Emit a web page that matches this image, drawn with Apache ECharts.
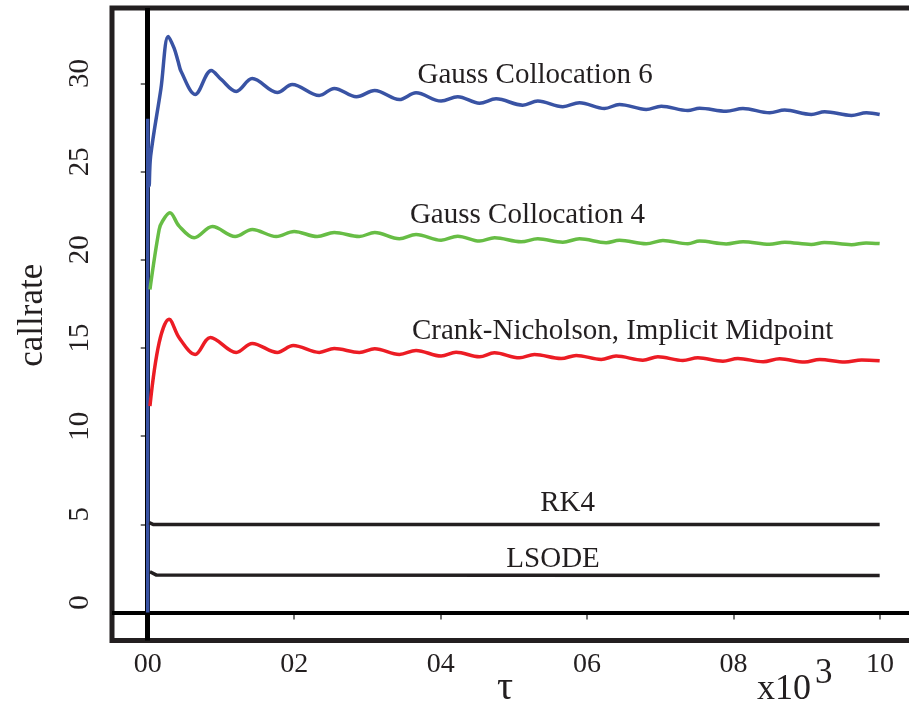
<!DOCTYPE html>
<html>
<head>
<meta charset="utf-8">
<script src="https://cdn.jsdelivr.net/npm/echarts@6/dist/echarts.min.js"></script>
<style>
html,body{margin:0;padding:0;background:#fff;}
#chart{width:909px;height:706px;}
</style>
</head>
<body>
<div id="chart"></div>
<script>
// ---- data (tau in units of 10^3, callrate) ----
const xTicks = [0, 0.2, 0.4, 0.6, 0.8, 1.0];
const xTickLabels = ['00', '02', '04', '06', '08', '10'];
const yTicks = [0, 5, 10, 15, 20, 25, 30];

const seriesNames = ['Gauss Collocation 6', 'Gauss Collocation 4', 'Crank-Nicholson, Implicit Midpoint', 'RK4', 'LSODE'];

const gc6 = [[0,0],[0,28.0],[0.002,24.2],[0.004,25.9],[0.018,29.7],[0.028,32.67],[0.036,32.0],[0.0415,31.25],[0.0456,30.68],[0.0648,29.38],[0.0867,30.74],[0.1003,30.23],[0.1208,29.55],[0.1427,30.28],[0.1769,29.49],[0.1973,29.94],[0.2342,29.32],[0.2547,29.72],[0.285,29.25],[0.310,29.6],[0.3436,29.09],[0.3664,29.47],[0.4006,29.0],[0.4233,29.25],[0.453,28.88],[0.4757,29.13],[0.5121,28.77],[0.5326,29.0],[0.5668,28.68],[0.5896,28.91],[0.6237,28.58],[0.6442,28.81],[0.6807,28.53],[0.7013,28.71],[0.7376,28.47],[0.7536,28.6],[0.790,28.43],[0.8128,28.58],[0.8493,28.34],[0.8698,28.49],[0.9062,28.24],[0.9244,28.40],[0.961,28.19],[0.9814,28.34],[0.9995,28.24]];

const gc4 = [[0.003,18.32],[0.0156,21.72],[0.0201,22.19],[0.0302,22.67],[0.0429,21.91],[0.0634,21.25],[0.0883,21.89],[0.1194,21.32],[0.1427,21.72],[0.1755,21.32],[0.1999,21.61],[0.2314,21.32],[0.2547,21.55],[0.2889,21.32],[0.310,21.55],[0.3436,21.19],[0.3664,21.44],[0.4006,21.11],[0.4233,21.34],[0.453,21.06],[0.4737,21.25],[0.5098,21.02],[0.5326,21.19],[0.5668,21.0],[0.5896,21.19],[0.626,20.97],[0.6442,21.11],[0.6807,20.91],[0.7035,21.1],[0.7376,20.91],[0.7536,21.06],[0.79,20.9],[0.813,21.03],[0.849,20.88],[0.870,21.0],[0.906,20.87],[0.924,20.98],[0.961,20.86],[0.981,20.96],[0.9995,20.92]];

const cn = [[0.003,11.7],[0.0156,15.3],[0.0292,16.63],[0.0429,15.58],[0.0648,14.63],[0.0855,15.6],[0.1208,14.75],[0.1427,15.26],[0.1769,14.75],[0.1987,15.14],[0.2342,14.75],[0.2547,14.97],[0.2889,14.75],[0.310,14.95],[0.3436,14.63],[0.3664,14.86],[0.4006,14.54],[0.4211,14.76],[0.453,14.5],[0.4734,14.73],[0.5076,14.44],[0.5281,14.63],[0.5646,14.4],[0.5851,14.58],[0.6192,14.35],[0.6396,14.54],[0.6761,14.31],[0.6966,14.5],[0.7307,14.29],[0.7513,14.44],[0.7854,14.25],[0.8059,14.4],[0.8404,14.22],[0.8629,14.39],[0.8971,14.2],[0.9176,14.35],[0.952,14.2],[0.975,14.32],[0.9995,14.27]];

const rk4 = [[0.002,5.09],[0.008,4.99],[0.9995,4.99]];
const lsode = [[0.003,2.31],[0.012,2.12],[0.9995,2.1]];

// label anchor points [tau, callrate]
const labelPos = [[0.5289,30.48],[0.5186,22.54],[0.6484,15.96],[0.5733,6.21],[0.5535,3.03]];

// ---- styling ----
const FONT = '"Liberation Serif", "Times New Roman", serif';
const INK = '#231f20';
const colors = ['#3953a4', '#67bd45', '#ec1c24', '#231f20', '#231f20'];
const seriesData = [gc6, gc4, cn, rk4, lsode];

function labelPoint(i) {
  return {
    silent: true,
    symbol: 'rect',
    symbolSize: [1, 1],
    itemStyle: { color: 'rgba(0,0,0,0)' },
    label: { show: true, position: 'inside', color: INK, fontFamily: FONT, fontSize: 29,
             formatter: seriesNames[i] },
    data: [{ coord: labelPos[i], value: 0 }]
  };
}

const series = seriesData.map((d, i) => ({
  type: 'line',
  name: seriesNames[i],
  data: d,
  z: 3,
  showSymbol: false,
  symbol: 'none',
  smooth: i < 3 ? 0.35 : false,
  lineStyle: { color: colors[i], width: 3.5 },
  itemStyle: { color: colors[i] },
  animation: false,
  markPoint: labelPoint(i)
}));

series.push({
  type: 'line',
  data: [],
  z: 1,
  markLine: {
    silent: true,
    z: 1,
    symbol: ['none', 'none'],
    label: { show: false },
    animation: false,
    data: [
      { xAxis: 0, lineStyle: { color: '#000', width: 5, type: 'solid' } },
      { yAxis: 0, lineStyle: { color: '#000', width: 4, type: 'solid' } }
    ]
  }
});

const chart = echarts.init(document.getElementById('chart'), null, { renderer: 'canvas' });
chart.setOption({
  backgroundColor: '#fff',
  animation: false,
  grid: { show: true, left: 112, top: 8, width: 813, height: 632.5,
          outerBoundsMode: 'none', containLabel: false,
          borderColor: INK, borderWidth: 5, backgroundColor: 'transparent' },
  xAxis: {
    type: 'value', min: -0.0488, max: 1.0614,
    name: 'τ', nameLocation: 'middle', nameGap: 28, nameMoveOverlap: false,
    nameTextStyle: { fontFamily: FONT, fontSize: 40, color: INK, padding: [0, 27, 0, 0] },
    axisLine: { show: false },
    splitLine: { show: false },
    axisTick: { show: true, customValues: xTicks, length: 7, lineStyle: { color: '#444', width: 1.5 } },
    axisLabel: { customValues: xTicks, margin: 10, fontFamily: FONT, fontSize: 28, color: INK,
                 formatter: v => { const k = xTicks.findIndex(t => Math.abs(t - v) < 1e-6); return k >= 0 ? xTickLabels[k] : ''; } }
  },
  yAxis: {
    type: 'value', min: -1.588, max: 34.28,
    name: 'callrate', nameLocation: 'middle', nameRotate: 90, nameGap: 62, nameMoveOverlap: false,
    nameTextStyle: { fontFamily: FONT, fontSize: 35, color: INK, padding: [0, 0, 0, 18] },
    axisLine: { show: false },
    splitLine: { show: false },
    axisTick: { show: true, customValues: yTicks, length: 7, lineStyle: { color: '#444', width: 1.5 } },
    axisLabel: { customValues: yTicks, rotate: 90, margin: 17, padding: [0, 0, 0, 20],
                 fontFamily: FONT, fontSize: 29, color: INK }
  },
  graphic: [
    { type: 'text', left: 757, top: 672, silent: true,
      style: { text: 'x10', font: '36px ' + FONT, fill: INK } },
    { type: 'text', left: 815, top: 656, silent: true,
      style: { text: '3', font: '35px ' + FONT, fill: INK } }
  ],
  series: series
});
</script>
</body>
</html>
